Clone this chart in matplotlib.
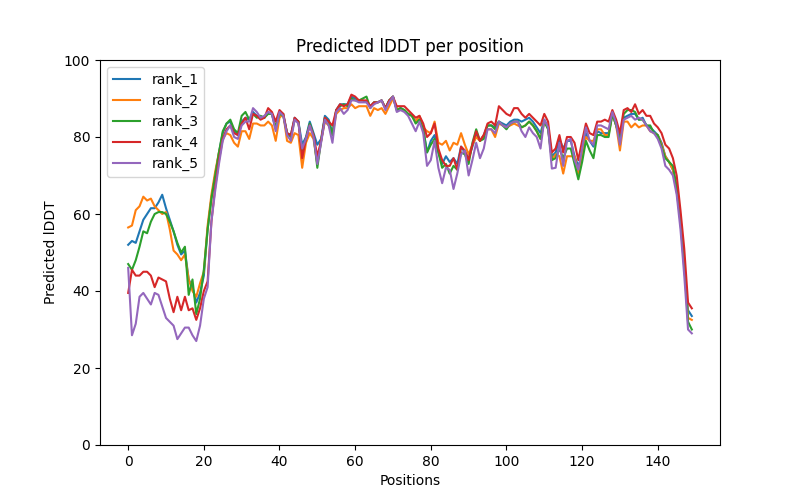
import matplotlib
matplotlib.use('Agg')
import matplotlib.pyplot as plt
import numpy as np

rank_1 = [52, 53, 52.5, 55.5, 58.5, 60, 61.5, 61.5, 63, 65,
          61.5, 58.5, 55.5, 52, 49.5, 50.5, 43, 41, 37, 39.5,
          44, 56, 64, 70, 76, 81, 83.5, 84, 81.5, 80.5,
          84, 85, 84.5, 86.5, 85.5, 85, 85, 86.5, 86, 82,
          86, 86, 81, 80.5, 85, 84, 78, 80, 84, 81,
          78, 79.5, 85.5, 84.5, 81, 87, 88.5, 88.5, 88.5, 90.5,
          90, 89.5, 89.5, 89, 88, 89, 89, 89.5, 87.5, 89.5,
          90.5, 87, 87.5, 87, 86, 85.5, 84, 84.5, 82, 76,
          79, 80.5, 76, 73, 75, 73.5, 74.5, 73, 77.5, 76,
          74.5, 77.5, 80.5, 79, 80.5, 83, 83, 82.5, 84, 83.5,
          83, 84, 84.5, 84.5, 84, 84.5, 85, 84, 82.5, 81,
          84.5, 82.5, 75, 76, 79.5, 77, 79, 79, 75, 72.5,
          75, 81, 79, 77.5, 81.5, 81, 81, 81, 86, 83,
          79.5, 85, 85.5, 86, 86, 84.5, 85, 83, 82.5, 81.5,
          80.5, 78.5, 75, 73.5, 71.5, 66, 58, 46, 35, 33.5]

rank_2 = [56.5, 57, 61, 62, 64.5, 63.5, 64, 62, 61, 60,
          60.5, 56, 50.5, 49.5, 48, 49.5, 43, 40, 38.5, 42,
          45, 57, 65, 71, 76, 79.5, 81, 80.5, 78.5, 77.5,
          81.5, 81.5, 79.5, 83.5, 83.5, 83, 83, 84, 83, 79,
          85, 86, 79, 78.5, 81, 80.5, 72, 78.5, 81, 79.5,
          73, 79, 84, 83, 80.5, 86, 87, 87.5, 87.5, 88.5,
          87.5, 88, 88, 88, 85.5, 87.5, 87, 87.5, 86, 88,
          90, 87.5, 87, 87, 86, 85.5, 84, 85.5, 82.5, 81.5,
          81, 84, 78.5, 78, 79, 76.5, 78.5, 78, 81, 78,
          75.5, 78, 80, 79, 80.5, 82, 82, 80, 83.5, 83,
          82.5, 83, 83.5, 83, 82.5, 83, 84, 83, 81.5, 79.5,
          84, 82.5, 74, 75.5, 75, 70.5, 75, 75, 75, 70.5,
          75, 80, 79, 79, 82, 82, 80.5, 80.5, 86, 83,
          76.5, 84, 84, 82.5, 83.5, 82.5, 83, 83, 81.5, 81,
          80.5, 78, 75, 73.5, 71.5, 66.5, 59, 48, 33, 32.5]

rank_3 = [47, 45.5, 48, 51.5, 55.5, 55, 58, 60, 60.5, 60.5,
          60, 58, 55.5, 52.5, 50, 51.5, 39, 43, 34, 38,
          45.5, 56, 64, 70, 76, 81.5, 83.5, 84.5, 82, 81,
          85.5, 86.5, 84.5, 86, 85, 85.5, 85, 86, 86, 82.5,
          86, 85.5, 81, 80, 84.5, 84, 76, 79.5, 83.5, 80.5,
          72, 79, 85, 84, 80.5, 87, 88, 88.5, 88, 90,
          89.5, 89.5, 90, 90.5, 87.5, 89, 89, 89.5, 87.5, 89.5,
          90.5, 87, 87.5, 87, 86, 85.5, 83.5, 84.5, 82, 76,
          78, 79.5, 76, 72, 73, 70.5, 72.5, 71.5, 76, 75.5,
          73, 78.5, 82, 79, 79.5, 83, 83, 82, 84, 83,
          82, 83.5, 84, 84, 82.5, 83, 84, 83, 81.5, 79.5,
          84, 82, 74, 74.5, 77, 74.5, 77, 77, 73, 69,
          73.5, 79, 76.5, 74.5, 80.5, 80.5, 80, 80, 86, 83,
          79.5, 86, 87, 87, 86.5, 84.5, 84.5, 83, 83, 81,
          80.5, 77.5, 74.5, 73.5, 72.5, 67, 59, 47, 32, 30]

rank_4 = [39.5, 45.5, 44, 44, 45, 45, 44, 41, 43.5, 43,
          42.5, 38, 34.5, 38.5, 35, 38.5, 35, 35.5, 32.5, 35.5,
          40, 42.5, 58, 67, 74, 79.5, 82, 83, 81, 80.5,
          83.5, 85, 82, 86, 85.5, 84.5, 85, 87.5, 86.5, 84,
          87, 86, 81, 80.5, 85, 84, 74.5, 79.5, 83, 80.5,
          75, 79, 85, 84, 83, 87, 88.5, 88, 88.5, 91,
          90.5, 89.5, 89.5, 89.5, 88, 89, 89, 89.5, 87.5, 89.5,
          90.5, 88, 88, 88, 87, 86, 85, 85.5, 83.5, 80,
          81, 83.5, 77, 74, 72.5, 72.5, 74.5, 71.5, 77.5, 76.5,
          74, 78, 81.5, 79, 80.5, 83.5, 84, 83, 88, 87,
          86, 85.5, 87.5, 87.5, 86, 85, 86, 85, 84, 83,
          86, 84, 76, 77, 80.5, 76, 80, 80, 78.5, 74,
          79, 83.5, 81, 80.5, 84, 84, 84.5, 84, 87, 84.5,
          81, 87, 87.5, 86.5, 88.5, 86, 87, 85.5, 85.5, 83.5,
          82.5, 81, 78, 77, 74.5, 70, 61, 51, 37, 35.5]

rank_5 = [46, 28.5, 31.5, 38.5, 39.5, 38, 36.5, 39.5, 39, 36,
          33, 32, 31, 27.5, 29, 30.5, 30.5, 28.5, 27, 31,
          38, 41, 58, 66, 73, 79, 81.5, 83, 80, 79.5,
          83, 84, 84, 87.5, 86.5, 85, 85.5, 86.5, 86, 81.5,
          86.5, 85.5, 80.5, 79, 84.5, 83.5, 77, 79.5, 83, 80,
          73, 78.5, 84.5, 83, 78.5, 86.5, 87.5, 86, 87, 89.5,
          89.5, 89, 89, 89, 87.5, 88.5, 89, 89.5, 87, 89,
          90.5, 86.5, 87, 86.5, 85.5, 83.5, 81.5, 84, 81, 72.5,
          74, 79, 72, 68, 72, 71.5, 66.5, 70.5, 75.5, 76.5,
          70, 74, 78.5, 74.5, 77, 82, 82, 81, 84, 83,
          82.5, 83.5, 84, 84, 81.5, 80, 82.5, 81, 80, 77,
          84.5, 82.5, 71.8, 72, 78.5, 72.5, 79, 79.5, 74, 71.5,
          77, 82.5, 79, 78, 83, 83, 82.5, 82, 86.5, 83.5,
          78, 84.5, 85, 85.5, 84.5, 85, 84.5, 83, 81.5, 81,
          79.5, 77, 72.5, 71.5, 70, 65, 56, 44, 30, 29]

ranks = [rank_1, rank_2, rank_3, rank_4, rank_5]
labels = ['rank_1', 'rank_2', 'rank_3', 'rank_4', 'rank_5']

plt.figure(figsize=(8, 5), dpi=100)
for vals, lab in zip(ranks, labels):
    plt.plot(np.arange(len(vals)), vals, label=lab)
plt.legend()
plt.ylim(0, 100)
plt.title('Predicted lDDT per position')
plt.xlabel('Positions')
plt.ylabel('Predicted lDDT')
plt.savefig('out.png', dpi=100)
